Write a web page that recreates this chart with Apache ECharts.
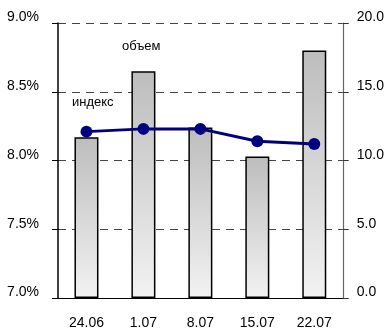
<!DOCTYPE html>
<html>
<head>
<meta charset="utf-8">
<script src="https://cdn.jsdelivr.net/npm/echarts@6/dist/echarts.min.js"></script>
<style>
  html, body { margin: 0; padding: 0; background: #fff; }
  #chart { width: 387px; height: 333px; }
</style>
</head>
<body>
<div id="chart"></div>
<script>
// Weekly dates
const categories = ['24.06', '1.07', '8.07', '15.07', '22.07'];
// Volume (bars, right axis)
const volumeValues = [11.7, 16.5, 12.4, 10.3, 18.0];
// Index, % (line, left axis)
const indexValues = [8.21, 8.23, 8.23, 8.14, 8.12];

const FONT = 'Liberation Sans, Arial, sans-serif';

const chart = echarts.init(document.getElementById('chart'), null, { renderer: 'canvas' });

chart.setOption({
  animation: false,
  backgroundColor: '#ffffff',
  grid: { left: 58, right: 43, top: 23, bottom: 35, containLabel: false },
  xAxis: {
    type: 'category',
    data: categories,
    boundaryGap: true,
    axisLine: { lineStyle: { color: '#000', width: 1 } },
    axisTick: { show: false },
    axisLabel: { color: '#000', fontFamily: FONT, fontSize: 14, margin: 18 }
  },
  yAxis: [
    {
      type: 'value',
      min: 7, max: 9, interval: 0.5,
      position: 'left',
      axisLine: { show: true, lineStyle: { color: '#000', width: 1.5 } },
      axisTick: { show: true, length: 6, lineStyle: { color: '#000', width: 1 } },
      axisLabel: {
        color: '#000', fontFamily: FONT, fontSize: 14, margin: 19,
        verticalAlign: 'bottom', lineHeight: 11,
        formatter: v => v.toFixed(1) + '%'
      },
      splitLine: { show: true, lineStyle: { color: '#444', width: 1, type: [8, 6] } }
    },
    {
      type: 'value',
      min: 0, max: 20, interval: 5,
      position: 'right',
      axisLine: { show: true, lineStyle: { color: '#666', width: 1.2 } },
      axisTick: { show: true, length: 6, lineStyle: { color: '#333', width: 1 } },
      axisLabel: {
        color: '#000', fontFamily: FONT, fontSize: 14, margin: 14,
        verticalAlign: 'bottom', lineHeight: 11,
        formatter: v => v.toFixed(1)
      },
      splitLine: { show: false }
    }
  ],
  series: [
    {
      name: 'объем',
      type: 'bar',
      yAxisIndex: 1,
      data: volumeValues,
      barWidth: 24,
      itemStyle: {
        borderColor: '#000',
        borderWidth: 1.5,
        color: new echarts.graphic.LinearGradient(0, 0, 0, 1, [
          { offset: 0, color: '#bdbdbd' },
          { offset: 1, color: '#f2f2f2' }
        ])
      },
      z: 3
    },
    {
      name: 'индекс',
      type: 'line',
      yAxisIndex: 0,
      data: indexValues,
      symbol: 'circle',
      symbolSize: 12,
      lineStyle: { color: '#00007f', width: 3 },
      itemStyle: { color: '#00007f' },
      z: 5
    }
  ],
  graphic: [
    {
      type: 'text', left: 122, top: 40,
      style: { text: 'объем', fill: '#000', font: '13px ' + FONT }
    },
    {
      type: 'text', left: 72, top: 96,
      style: { text: 'индекс', fill: '#000', font: '13px ' + FONT }
    }
  ]
});
</script>
</body>
</html>
